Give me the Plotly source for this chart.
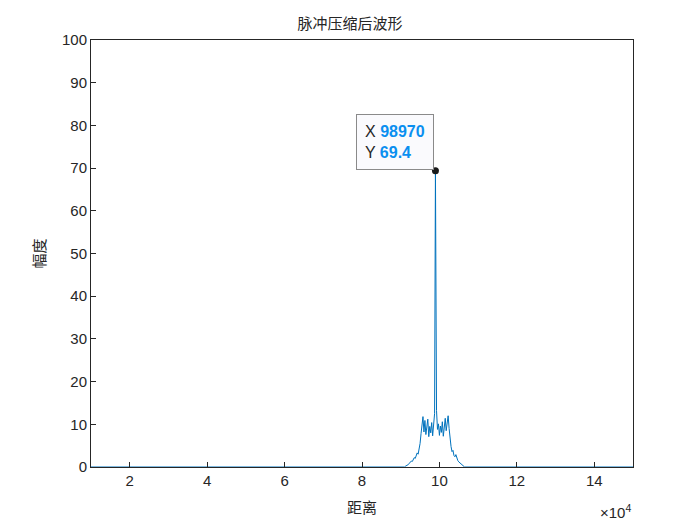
import plotly.graph_objects as go

# ---- data ----
left_x = [10000, 91000]
left_y = [0.0, 0.0]

pulse_x = [91250, 91500, 91750, 92000, 92250, 92500, 92750, 93000, 93250, 93500,
           93750, 94000, 94250, 94500, 94750, 95000, 95250, 95500, 95750, 96000,
           96250, 96500, 96750, 97000, 97250, 97500, 97750, 98000, 98250, 98500,
           98750, 98970, 99250, 99500, 99750, 100000, 100250, 100500, 100750, 101000,
           101250, 101500, 101750, 102000, 102250, 102500, 102750, 103000, 103250, 103500,
           103750, 104000, 104250, 104500, 104750, 105000, 105250, 105500, 105750, 106000,
           106250]
pulse_y = [0.2, 0.3, 0.5, 0.6, 0.9, 1.1, 1.4, 1.3, 1.8, 2.2,
           2.0, 2.8, 3.3, 3.0, 4.2, 5.5, 7.8, 10.5, 11.8, 8.2,
           10.9, 7.6, 9.8, 11.2, 7.1, 9.5, 8.0, 10.4, 7.3, 9.9,
           12.5, 69.4, 13.2, 8.8, 10.1, 7.4, 9.6, 8.1, 10.6, 7.2,
           9.3, 11.4, 8.5, 10.8, 12.0, 9.0, 6.5, 4.8, 3.6, 3.9,
           2.7, 2.4, 2.9, 1.8, 1.5, 1.2, 1.0, 0.7, 0.5, 0.3,
           0.2]

right_x = [106500, 150000]
right_y = [0.0, 0.0]

peak_x = 98970
peak_y = 69.4

x_tickvals = [20000, 40000, 60000, 80000, 100000, 120000, 140000]
x_ticktext = ["2", "4", "6", "8", "10", "12", "14"]
y_tickvals = [0, 10, 20, 30, 40, 50, 60, 70, 80, 90, 100]

title_text = "脉冲压缩后波形"
xlabel = "距离"
ylabel = "幅度"

xs = left_x + pulse_x + right_x
ys = left_y + pulse_y + right_y

fig = go.Figure()
fig.add_trace(go.Scatter(x=xs, y=ys, mode="lines",
                         line=dict(color="#0072BD", width=1), hoverinfo="skip",
                         showlegend=False))
fig.add_trace(go.Scatter(x=[peak_x], y=[peak_y], mode="markers",
                         marker=dict(color="#1a1a1a", size=7), showlegend=False))

tip_text = ("X <b><span style='color:#0a8ff0'>%d</span></b><br>"
            "Y <b><span style='color:#0a8ff0'>%.1f</span></b>") % (peak_x, peak_y)
fig.add_annotation(x=peak_x, y=peak_y, xref="x", yref="y", text=tip_text,
                   showarrow=False, xanchor="right", yanchor="bottom",
                   xshift=-1, yshift=1, align="left",
                   font=dict(family="Liberation Sans, Arial", size=16, color="#262626"),
                   bgcolor="rgba(250,250,253,1)", bordercolor="#8a8a8a",
                   borderwidth=1, borderpad=8)

fig.add_annotation(x=1.0, y=0, xref="paper", yref="paper",
                   text="×10<sup>4</sup>", showarrow=False,
                   xanchor="right", yanchor="top", yshift=-33, xshift=0,
                   font=dict(family="Liberation Sans, Arial", size=15, color="#262626"))

axis_common = dict(showgrid=False, zeroline=False, showline=True, mirror=True,
                   linecolor="#262626", linewidth=1, ticks="inside", ticklen=5,
                   tickcolor="#262626",
                   tickfont=dict(family="Liberation Sans, Arial", size=15, color="#262626"))

fig.update_layout(
    width=700, height=525,
    margin=dict(l=91, r=67, t=40, b=58),
    paper_bgcolor="white", plot_bgcolor="white",
    title=dict(text=title_text, x=0.5, xanchor="center", y=0.955, yanchor="middle",
               font=dict(family="Noto Sans CJK SC", size=15, color="#262626")),
    xaxis=dict(range=[10000, 150000], tickvals=x_tickvals, ticktext=x_ticktext,
               title=dict(text=xlabel, standoff=14,
                          font=dict(family="Noto Sans CJK SC", size=15, color="#262626")),
               **axis_common),
    yaxis=dict(range=[0, 100], tickvals=y_tickvals,
               title=dict(text=ylabel, standoff=12,
                          font=dict(family="Noto Sans CJK SC", size=15, color="#262626")),
               **axis_common),
)

fig.write_html("out.html", config={"displayModeBar": False},
               post_script="document.body.style.margin='0';")
